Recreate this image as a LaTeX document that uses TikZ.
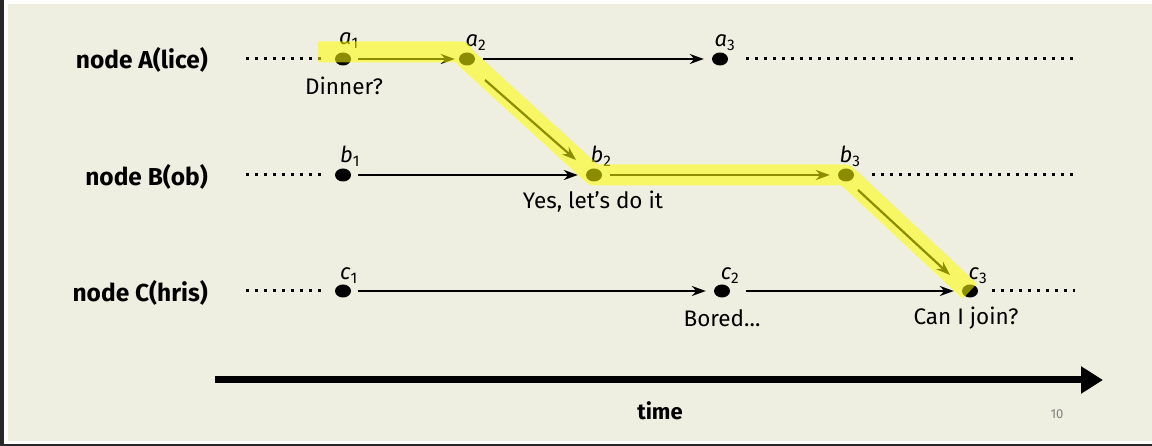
\documentclass[tikz,border=0pt]{standalone}
\usepackage{fontspec}
\setmainfont{Fira Sans}
\usetikzlibrary{arrows.meta,shapes.geometric}
\definecolor{bg}{RGB}{239,239,225}
\definecolor{hl}{RGB}{255,255,0}
\definecolor{frame}{RGB}{40,40,40}
\begin{document}
\begin{tikzpicture}[x=1pt,y=-1pt,
  ev/.style={ellipse,fill=black,minimum width=16pt,minimum height=13pt,inner sep=0pt},
  evlbl/.style={font=\fontsize{22}{24}\selectfont\itshape,inner sep=0pt,anchor=base},
  rowlbl/.style={font=\fontsize{24.5}{27}\selectfont\bfseries,anchor=east,inner sep=0pt},
  msg/.style={font=\fontsize{22.5}{26}\selectfont,inner sep=0pt},
  msgarrow/.style={line width=2.2pt,-{Stealth[length=14pt,width=10pt]}},
  dotline/.style={line width=3pt,dash pattern=on 3pt off 6pt},
  hlpath/.style={draw=hl,line width=21pt,line join=round,opacity=0.55},
  timearrow/.style={line width=7pt,-{Triangle[length=22pt,width=26pt]}}
]
\useasboundingbox (0,0) rectangle (1152,446);
% frame
\fill[white] (0,0) rectangle (1152,446);
\fill[frame] (0,0) rectangle (4,446);
\fill[bg] (8,4) rectangle (1152,441);
\fill[frame] (4,444) rectangle (1152,446);

% row labels
\node[rowlbl] (A) at (208,60) {node A(lice)};
\node[rowlbl] (B) at (208,177) {node B(ob)};
\node[rowlbl] (C) at (208,293) {node C(hris)};

% events
\node[ev] (a1) at (343,59) {};
\node[ev] (a2) at (467,59) {};
\node[ev] (a3) at (720,59) {};
\node[ev] (b1) at (343,175) {};
\node[ev] (b2) at (594,175) {};
\node[ev] (b3) at (846,175) {};
\node[ev] (c1) at (343,291) {};
\node[ev] (c2) at (722,291) {};
\node[ev] (c3) at (970,291) {};

% event labels
\node[evlbl] (la1) at (349,45) {a\textsubscript{\upshape 1}};
\node[evlbl] (la2) at (476,47) {a\textsubscript{\upshape 2}};
\node[evlbl] (la3) at (725,47) {a\textsubscript{\upshape 3}};
\node[evlbl] (lb1) at (350,163) {b\textsubscript{\upshape 1}};
\node[evlbl] (lb2) at (601,163) {b\textsubscript{\upshape 2}};
\node[evlbl] (lb3) at (850,163) {b\textsubscript{\upshape 3}};
\node[evlbl] (lc1) at (349,280) {c\textsubscript{\upshape 1}};
\node[evlbl] (lc2) at (730,280) {c\textsubscript{\upshape 2}};
\node[evlbl] (lc3) at (978,280) {c\textsubscript{\upshape 3}};

% messages
\node[msg] (m1) at (344,86) {Dinner?};
\node[msg] (m2) at (593,202) {Yes, let's do it};
\node[msg] (m3) at (722,318) {Bored...};
\node[msg] (m4) at (966,318) {Can I join?};

% dotted lines
\coordinate (dA0) at (246,59); \coordinate (dA1) at (1075,59);
\coordinate (dB0) at (246,175); \coordinate (dB1) at (1075,175);
\coordinate (dC0) at (246,291); \coordinate (dC1) at (1075,291);
\draw[dotline] (dA0) -- ([xshift=-10pt]a1.west);
\draw[dotline] ([xshift=18pt]a3.east) -- (dA1);
\draw[dotline] (dB0) -- ([xshift=-10pt]b1.west);
\draw[dotline] ([xshift=18pt]b3.east) -- (dB1);
\draw[dotline] (dC0) -- ([xshift=-10pt]c1.west);
\draw[dotline] ([xshift=14pt]c3.east) -- (dC1);

% message arrows
\draw[msgarrow] ([xshift=7pt]a1.east) -- ([xshift=-4pt]a2.west);
\draw[msgarrow] ([xshift=8pt]a2.east) -- ([xshift=-8pt]a3.west);
\draw[msgarrow] ([xshift=7pt]b1.east) -- ([xshift=-8pt]b2.west);
\draw[msgarrow] ([xshift=8pt]b2.east) -- ([xshift=-8pt]b3.west);
\draw[msgarrow] ([xshift=7pt]c1.east) -- ([xshift=-8pt]c2.west);
\draw[msgarrow] ([xshift=16pt]c2.east) -- ([xshift=-8pt]c3.west);
\draw[msgarrow] ([shift={(18pt,-21pt)}]a2.center) -- ([shift={(-18pt,15pt)}]b2.center);
\draw[msgarrow] ([shift={(12pt,-15pt)}]b3.center) -- ([shift={(-20pt,16pt)}]c3.center);

% time axis
\coordinate (t0) at (215,380);
\coordinate (t1) at (1103,380);
\draw[timearrow] (t0) -- (t1);
\node[font=\fontsize{22}{24}\selectfont\bfseries,inner sep=0pt] (time) at (660,411) {time};
\node[font=\fontsize{13}{15}\selectfont,text=gray,inner sep=0pt] (page) at (1057,414) {10};

% highlight
\coordinate (h0) at (318,52);
\coordinate (h1) at (462,52);
\draw[hlpath] (h0) -- (h1) -- (a2.center) -- (b2.center) -- (b3.center) -- (c3.center);
\end{tikzpicture}
\end{document}
